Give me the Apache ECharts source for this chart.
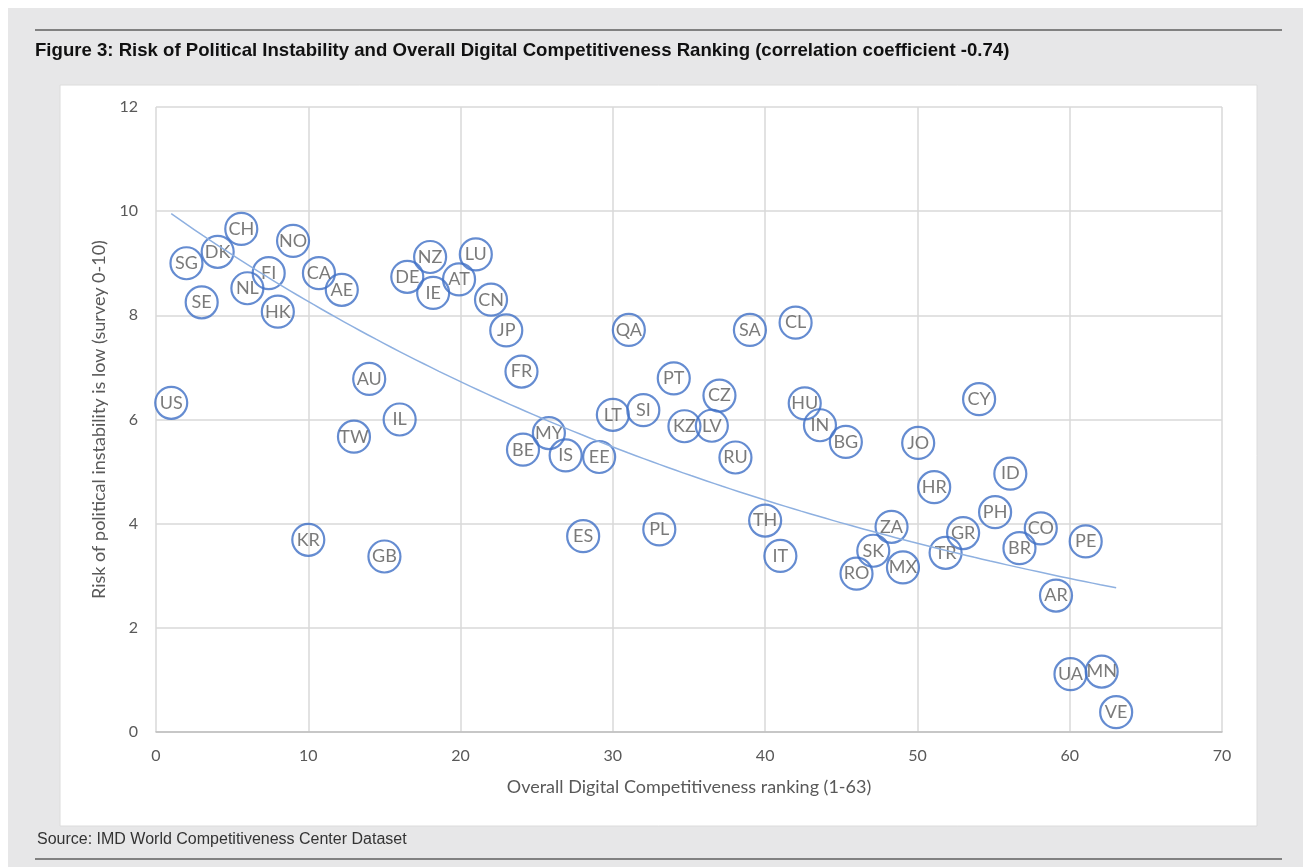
<!DOCTYPE html>
<html>
<head>
<meta charset="utf-8">
<script src="https://cdn.jsdelivr.net/npm/echarts@6/dist/echarts.min.js"></script>
<style>
  html, body { margin: 0; padding: 0; background: #fff; }
  #chart { width: 1303px; height: 867px; }
</style>
</head>
<body>
<div id="chart"></div>
<script>
// country codes, digital competitiveness rank (x), political stability score (y)
var codes = ['US','SG','SE','DK','CH','NL','FI','HK','NO','CA','AE','AU','TW','IL','KR','GB',
  'DE','NZ','IE','AT','LU','CN','JP','FR','BE','MY','IS','ES','EE','LT','QA','SI','PL',
  'PT','KZ','LV','CZ','RU','SA','TH','IT','CL','HU','IN','BG','RO','SK','ZA','MX','JO',
  'HR','TR','GR','CY','PH','ID','BR','CO','AR','UA','PE','MN','VE'];
var ranks = [1.0,2.0,3.0,4.05,5.6,6.0,7.4,8.0,9.0,10.7,12.2,14.0,13.0,16.0,10.0,15.0,
  16.5,18.0,18.2,19.9,21.0,22.0,23.0,24.0,24.1,25.8,26.9,28.05,29.1,30.0,31.05,32.0,33.05,
  34.0,34.7,36.5,37.0,38.05,39.0,40.0,41.0,42.0,42.6,43.6,45.3,46.0,47.1,48.3,49.05,50.05,
  51.1,51.85,53.0,54.05,55.1,56.1,56.7,58.1,59.1,60.05,61.05,62.1,63.05];
var scores = [6.32,9.0,8.25,9.22,9.66,8.52,8.81,8.07,9.43,8.81,8.49,6.78,5.67,6.0,3.69,3.37,
  8.74,9.12,8.43,8.69,9.17,8.3,7.71,6.92,5.42,5.74,5.31,3.76,5.28,6.09,7.72,6.18,3.89,
  6.79,5.87,5.88,6.46,5.27,7.72,4.06,3.38,7.86,6.31,5.89,5.57,3.04,3.48,3.94,3.16,5.55,
  4.7,3.44,3.82,6.39,4.22,4.96,3.53,3.91,2.62,1.11,3.66,1.16,0.38];

var xTicks = [0, 70, 10];
var yTicks = [0, 12, 2];

var points = [];
for (var i = 0; i < codes.length; i++) {
  points.push([ranks[i], scores[i], codes[i]]);
}

// exponential trendline (least squares on ln y), like the spreadsheet does
var n = ranks.length, sx = 0, sy = 0, sxx = 0, sxy = 0;
for (var i = 0; i < n; i++) {
  var ly = Math.log(scores[i]);
  sx += ranks[i]; sy += ly; sxx += ranks[i] * ranks[i]; sxy += ranks[i] * ly;
}
var b = (n * sxy - sx * sy) / (n * sxx - sx * sx);
var a = Math.exp((sy - b * sx) / n);
var xMin = Math.min.apply(null, ranks), xMax = Math.max.apply(null, ranks);
var trend = [];
for (var k = 0; k <= 60; k++) {
  var x = xMin + (xMax - xMin) * k / 60;
  trend.push([x, a * Math.exp(b * x)]);
}

var chart = echarts.init(document.getElementById('chart'));
var txt = '#595959';
var font = 'Lato, sans-serif';
var option = {
  backgroundColor: '#fff',
  animation: false,
  graphic: [
    { type: 'rect', z: -10, shape: { x: 8, y: 8, width: 1295, height: 859 }, style: { fill: '#e7e7e8' } },
    { type: 'rect', z: -9, shape: { x: 60, y: 85, width: 1197, height: 741 }, style: { fill: '#fff', stroke: '#dcdcdc', lineWidth: 1 } },
    { type: 'line', shape: { x1: 35, y1: 30, x2: 1282, y2: 30 }, style: { stroke: '#5f5f5f', lineWidth: 1.5 } },
    { type: 'line', shape: { x1: 35, y1: 859, x2: 1282, y2: 859 }, style: { stroke: '#5f5f5f', lineWidth: 1.5 } },
    { type: 'text', left: 37, top: 832, style: { text: 'Source: IMD World Competitiveness Center Dataset', fill: '#333', font: '16px "Liberation Sans", Arial, sans-serif' } }
  ],
  title: {
    text: 'Figure 3: Risk of Political Instability and Overall Digital Competitiveness Ranking (correlation coefficient -0.74)',
    left: 35, top: 41, padding: 0,
    textStyle: { fontFamily: '"Liberation Sans", Arial, sans-serif', fontSize: 18.6, fontWeight: 'bold', color: '#111' }
  },
  grid: { left: 156, right: 81, top: 107, bottom: 135 },
  xAxis: {
    type: 'value', min: xTicks[0], max: xTicks[1], interval: xTicks[2],
    name: 'Overall Digital Competitiveness ranking (1-63)',
    nameLocation: 'middle', nameGap: 46,
    nameTextStyle: { color: txt, fontSize: 18, fontFamily: font },
    axisLine: { lineStyle: { color: '#bfbfbf', width: 1.5 } },
    axisTick: { show: false },
    axisLabel: { color: txt, fontSize: 16, margin: 16, fontFamily: font },
    splitLine: { show: true, lineStyle: { color: '#d9d9d9', width: 1.5 } }
  },
  yAxis: {
    type: 'value', min: yTicks[0], max: yTicks[1], interval: yTicks[2],
    name: 'Risk of political instability is low (survey 0-10)',
    nameLocation: 'middle', nameGap: 47, nameRotate: 90,
    nameTextStyle: { color: txt, fontSize: 18, fontFamily: font },
    axisLine: { show: false },
    axisTick: { show: false },
    axisLabel: { color: txt, fontSize: 16, margin: 18, fontFamily: font },
    splitLine: { show: true, lineStyle: { color: '#d9d9d9', width: 1.5 } }
  },
  series: [
    {
      type: 'scatter',
      data: points,
      symbol: 'circle',
      symbolSize: 32,
      itemStyle: { color: 'rgba(255,255,255,0)', borderColor: '#3f6fc6', borderWidth: 2.2 },
      label: {
        show: true, position: 'inside',
        formatter: function (p) { return p.data[2]; },
        color: txt, fontSize: 18, fontFamily: font
      },
      z: 3
    },
    {
      type: 'line',
      data: trend,
      showSymbol: false,
      smooth: true,
      lineStyle: { color: '#8eb0e0', width: 1.5 },
      z: 4
    }
  ]
};
chart.setOption(option);
</script>
</body>
</html>
